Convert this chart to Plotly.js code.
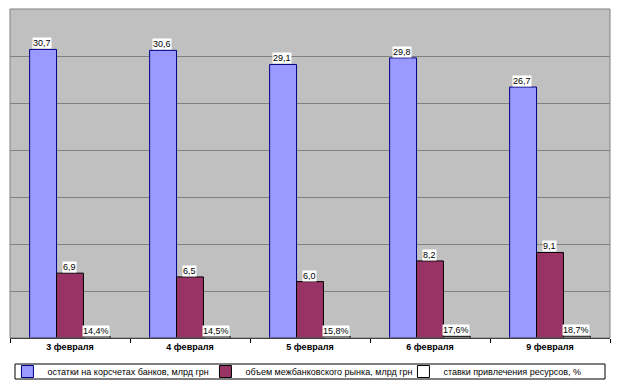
<!DOCTYPE html>
<html>
<head>
<meta charset="utf-8">
<script src="https://cdn.plot.ly/plotly-3.0.1.min.js"></script>
<style>html,body{margin:0;padding:0;background:#fff;}#chart{width:620px;height:386px;}</style>
</head>
<body>
<div id="chart"></div>
<script>
const categories = ["3 февраля", "4 февраля", "5 февраля", "6 февраля", "9 февраля"];
const seriesNames = ["остатки на корсчетах банков, млрд грн", "объем межбанковского рынка, млрд грн", "ставки привлечения ресурсов, %"];
const balances = [30.7, 30.6, 29.1, 29.8, 26.7];
const interbank = [6.9, 6.5, 6.0, 8.2, 9.1];
const rates = [14.4, 14.5, 15.8, 17.6, 18.7];
const balanceLabels = ["30,7", "30,6", "29,1", "29,8", "26,7"];
const interbankLabels = ["6,9", "6,5", "6,0", "8,2", "9,1"];
const rateLabels = ["14,4%", "14,5%", "15,8%", "17,6%", "18,7%"];

const rateShares = rates.map(v => v / 100);
const values = [balances, interbank, rateShares];
const labels = [balanceLabels, interbankLabels, rateLabels];
const fills = ["#9999FF", "#993366", "#FFFFFF"];
const outlines = ["#000080", "#000000", "#000000"];

const traces = values.map((vals, i) => ({
  type: "bar",
  name: seriesNames[i],
  x: categories,
  y: vals,
  marker: {color: fills[i], line: {color: outlines[i], width: 1}},
  hoverinfo: "skip"
}));

const annotations = [];
values.forEach((vals, i) => {
  vals.forEach((v, j) => {
    annotations.push({
      x: categories[j], y: v, xref: "x", yref: "y",
      text: labels[i][j], showarrow: false,
      xanchor: "center", yanchor: "bottom",
      xshift: (i - 1) * 27 - 1, yshift: 0,
      bgcolor: "#FFFFFF", borderpad: 0,
      font: {family: "Liberation Sans, Arial, sans-serif", size: 9, color: "#000"}
    });
  });
});

const layout = {
  width: 620, height: 386,
  margin: {l: 10, r: 10, t: 9, b: 48},
  paper_bgcolor: "#FFFFFF",
  plot_bgcolor: "#C0C0C0",
  barmode: "group",
  bargap: 0.327,
  bargroupgap: 0,
  showlegend: true,
  font: {family: "Liberation Sans, Arial, sans-serif", size: 9, color: "#000"},
  xaxis: {
    type: "category",
    tickson: "boundaries",
    ticks: "outside", ticklen: 4, tickcolor: "#000", tickwidth: 1,
    showline: true, linecolor: "#000", linewidth: 1,
    tickfont: {family: "Liberation Sans, Arial, sans-serif", size: 9, color: "#000", weight: "bold"},
    showgrid: false, fixedrange: true
  },
  yaxis: {
    range: [0, 35], dtick: 5,
    showticklabels: false, ticks: "",
    showgrid: true, gridcolor: "#808080", gridwidth: 1,
    zeroline: false, showline: false, fixedrange: true
  },
  shapes: [
    {
      type: "rect", xref: "paper", yref: "paper", x0: 0, x1: 1, y0: 0, y1: 1,
      line: {color: "#808080", width: 1}, fillcolor: "rgba(0,0,0,0)"
    },
    {
      type: "rect", xref: "paper", yref: "paper",
      x0: 5 / 600, x1: 595 / 600, y0: -26 / 329, y1: -41 / 329,
      line: {color: "#000000", width: 1}, fillcolor: "#FFFFFF", layer: "above"
    }
  ],
  legend: {
    orientation: "h",
    xref: "container", yref: "container",
    x: 0.012, xanchor: "left",
    y: 0.0751, yanchor: "top",
    bgcolor: "rgba(0,0,0,0)", borderwidth: 0,
    entrywidth: 153, entrywidthmode: "pixels",
    itemwidth: 30,
    font: {family: "Liberation Sans, Arial, sans-serif", size: 9, color: "#000"},
    traceorder: "normal"
  },
  annotations: annotations
};

Plotly.newPlot("chart", traces, layout, {displayModeBar: false, staticPlot: true});
</script>
</body>
</html>
